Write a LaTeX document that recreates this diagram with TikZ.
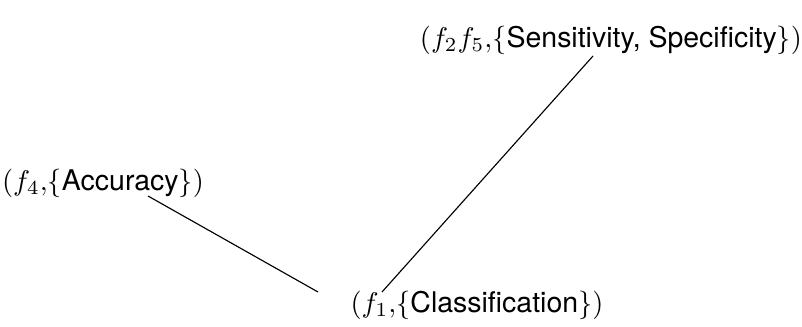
\documentclass[tikz,border=0pt]{standalone}
\usepackage[no-math]{fontspec}
\setsansfont{TeX Gyre Heros}
\usepackage{amsmath}
\usetikzlibrary{positioning}

\begin{document}
\begin{tikzpicture}[
  x=0.01235cm, y=-0.01235cm,
  lbl/.style={inner sep=0pt, font=\normalsize},
]
\useasboundingbox (0,0) rectangle (802,327);
\node[lbl] (sens) at (611,40)  {$(f_2f_5{,}\{\textsf{Sensitivity, Specificity}\})$};
\node[lbl] (acc)  at (103,183) {$(f_4{,}\{\textsf{Accuracy}\})$};
\node[lbl] (cls)  at (477,305) {$(f_1{,}\{\textsf{Classification}\})$};
\draw ([shift={(45,13)}]acc.center) -- ([shift={(-159,-13)}]cls.center);
\draw ([shift={(-18,16)}]sens.center) -- ([shift={(-95,-13)}]cls.center);
\end{tikzpicture}
\end{document}
